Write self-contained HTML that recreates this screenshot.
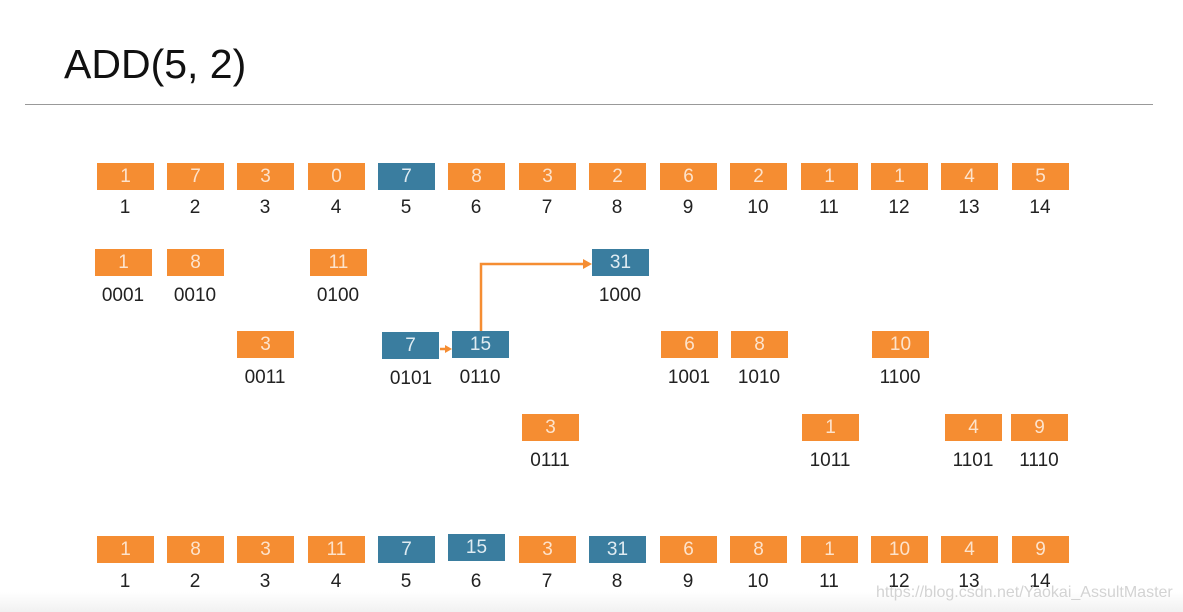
<!DOCTYPE html><html><head><style>
body{margin:0;width:1183px;height:612px;background:#fff;position:relative;overflow:hidden;font-family:"Liberation Sans",sans-serif}
.b{position:absolute;width:57px;height:27px;background:#f58d32;color:#fde3cc;font-size:19px;line-height:27px;text-align:center}
.u{background:#3a7d9f;color:#e0ecf2}
.l{position:absolute;width:80px;text-align:center;font-size:19px;color:#222}
</style></head><body>
<div style="position:absolute;left:64px;top:41px;font-size:41px;color:#111">ADD(5, 2)</div>
<div style="position:absolute;left:25px;top:104px;width:1128px;height:1px;background:#999"></div>
<div style="position:absolute;left:0;top:592px;width:1183px;height:20px;background:linear-gradient(#fff,#f1f1f1)"></div>
<svg style="position:absolute;left:0;top:0" width="1183" height="612">
<polyline points="481,331 481,264 585,264" fill="none" stroke="#f58d32" stroke-width="2.5"/>
<polygon points="592,264 583,259 583,269" fill="#f58d32"/>
<line x1="440" y1="349" x2="446" y2="349" stroke="#f58d32" stroke-width="2.5"/>
<polygon points="452,349 445,345 445,353" fill="#f58d32"/>
</svg>
<div id="c"></div>
<script>
var h='';
function B(x,y,t,u){h+='<div class="b'+(u?' u':'')+'" style="left:'+x+'px;top:'+y+'px">'+t+'</div>';}
function L(x,y,t){h+='<div class="l" style="left:'+(x-40)+'px;top:'+y+'px">'+t+'</div>';}
var xs=[97,167,237,308,378,448,519,589,660,730,801,871,941,1012];
var r1=[1,7,3,0,7,8,3,2,6,2,1,1,4,5], r5=[1,8,3,11,7,15,3,31,6,8,1,10,4,9];
for(var i=0;i<14;i++){B(xs[i],163,r1[i],i==4);L(xs[i]+28,197,i+1);
B(xs[i],i==5?534:536,r5[i],i==4||i==5||i==7);L(xs[i]+28,571,i+1);}
var o=[[95,249,1,0,'0001'],[167,249,8,0,'0010'],[310,249,11,0,'0100'],[592,249,31,1,'1000'],
[237,331,3,0,'0011'],[382,332,7,1,'0101'],[452,331,15,1,'0110'],[661,331,6,0,'1001'],[731,331,8,0,'1010'],[872,331,10,0,'1100'],
[522,414,3,0,'0111'],[802,414,1,0,'1011'],[945,414,4,0,'1101'],[1011,414,9,0,'1110']];
o.forEach(function(a){B(a[0],a[1],a[2],a[3]);L(a[0]+28+(a[3]&&a[2]==7?1:0),a[1]+36,a[4]);});
document.getElementById('c').innerHTML=h;
</script>
<div style="position:absolute;left:876px;top:584px;font-size:16px;color:rgba(200,200,200,0.8)">https://blog.csdn.net/Yaokai_AssultMaster</div>
</body></html>
